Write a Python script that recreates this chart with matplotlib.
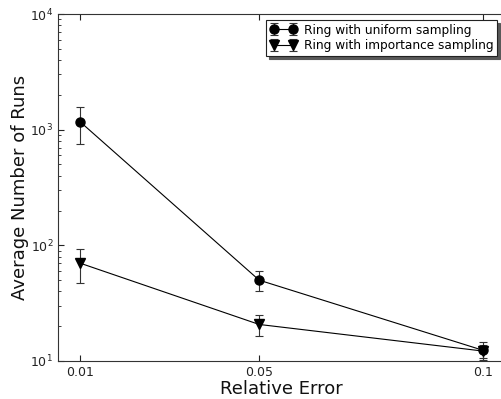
import matplotlib
matplotlib.use("Agg")
import matplotlib.pyplot as plt

x_values = [0.01, 0.05, 0.1]
x_labels = ["0.01", "0.05", "0.1"]
uniform_mean = [1165, 50, 12.4]
uniform_err = [410, 10, 2.2]
importance_mean = [70, 20.7, 12.2]
importance_err = [23, 4.3, 1.5]

fig = plt.figure(figsize=(5.01, 3.99), dpi=100)
ax = fig.add_axes([58/501, 1-361/399, (505-58)/501, (361-14)/399])

ax.errorbar(x_values, uniform_mean, yerr=uniform_err, color='black', marker='o',
            markersize=6.5, linewidth=0.8, elinewidth=0.8, capsize=2.7, capthick=0.8,
            ecolor='#333333', label='Ring with uniform sampling')
ax.errorbar(x_values, importance_mean, yerr=importance_err, color='black', marker='v',
            markersize=6.5, linewidth=0.8, elinewidth=0.8, capsize=2.7, capthick=0.8,
            ecolor='#333333', label='Ring with importance sampling')

ax.set_yscale('log')
ax.set_ylim(10, 1e4)
ax.set_xlim(0.005, 0.105)
ax.set_xticks(x_values)
ax.set_xticklabels(x_labels)
ax.tick_params(which='both', direction='in', top=True, right=False, labelsize=9,
               colors='#222222')
ax.tick_params(which='major', length=4)
ax.tick_params(which='minor', length=2)
ax.tick_params(axis='x', which='minor', bottom=False, top=False)

ax.set_xlabel('Relative Error', fontsize=13, labelpad=1, color='#111111')
ax.set_ylabel('Average Number of Runs', fontsize=13, labelpad=1, color='#111111')

leg = ax.legend(loc='upper right', numpoints=2, fancybox=False,
                shadow={'color': '0.35', 'alpha': 1.0, 'ox': 2, 'oy': -2},
                fontsize=8.7, handlelength=2.2, borderpad=0.3, labelspacing=0.22,
                handletextpad=0.6, borderaxespad=0,
                bbox_to_anchor=(497/501, 1-20/399), bbox_transform=fig.transFigure)
leg.get_frame().set_edgecolor('#222222')
leg.get_frame().set_linewidth(0.8)

for s in ax.spines.values():
    s.set_linewidth(0.8)
    s.set_color('#333333')

fig.savefig('out.png', dpi=100)
